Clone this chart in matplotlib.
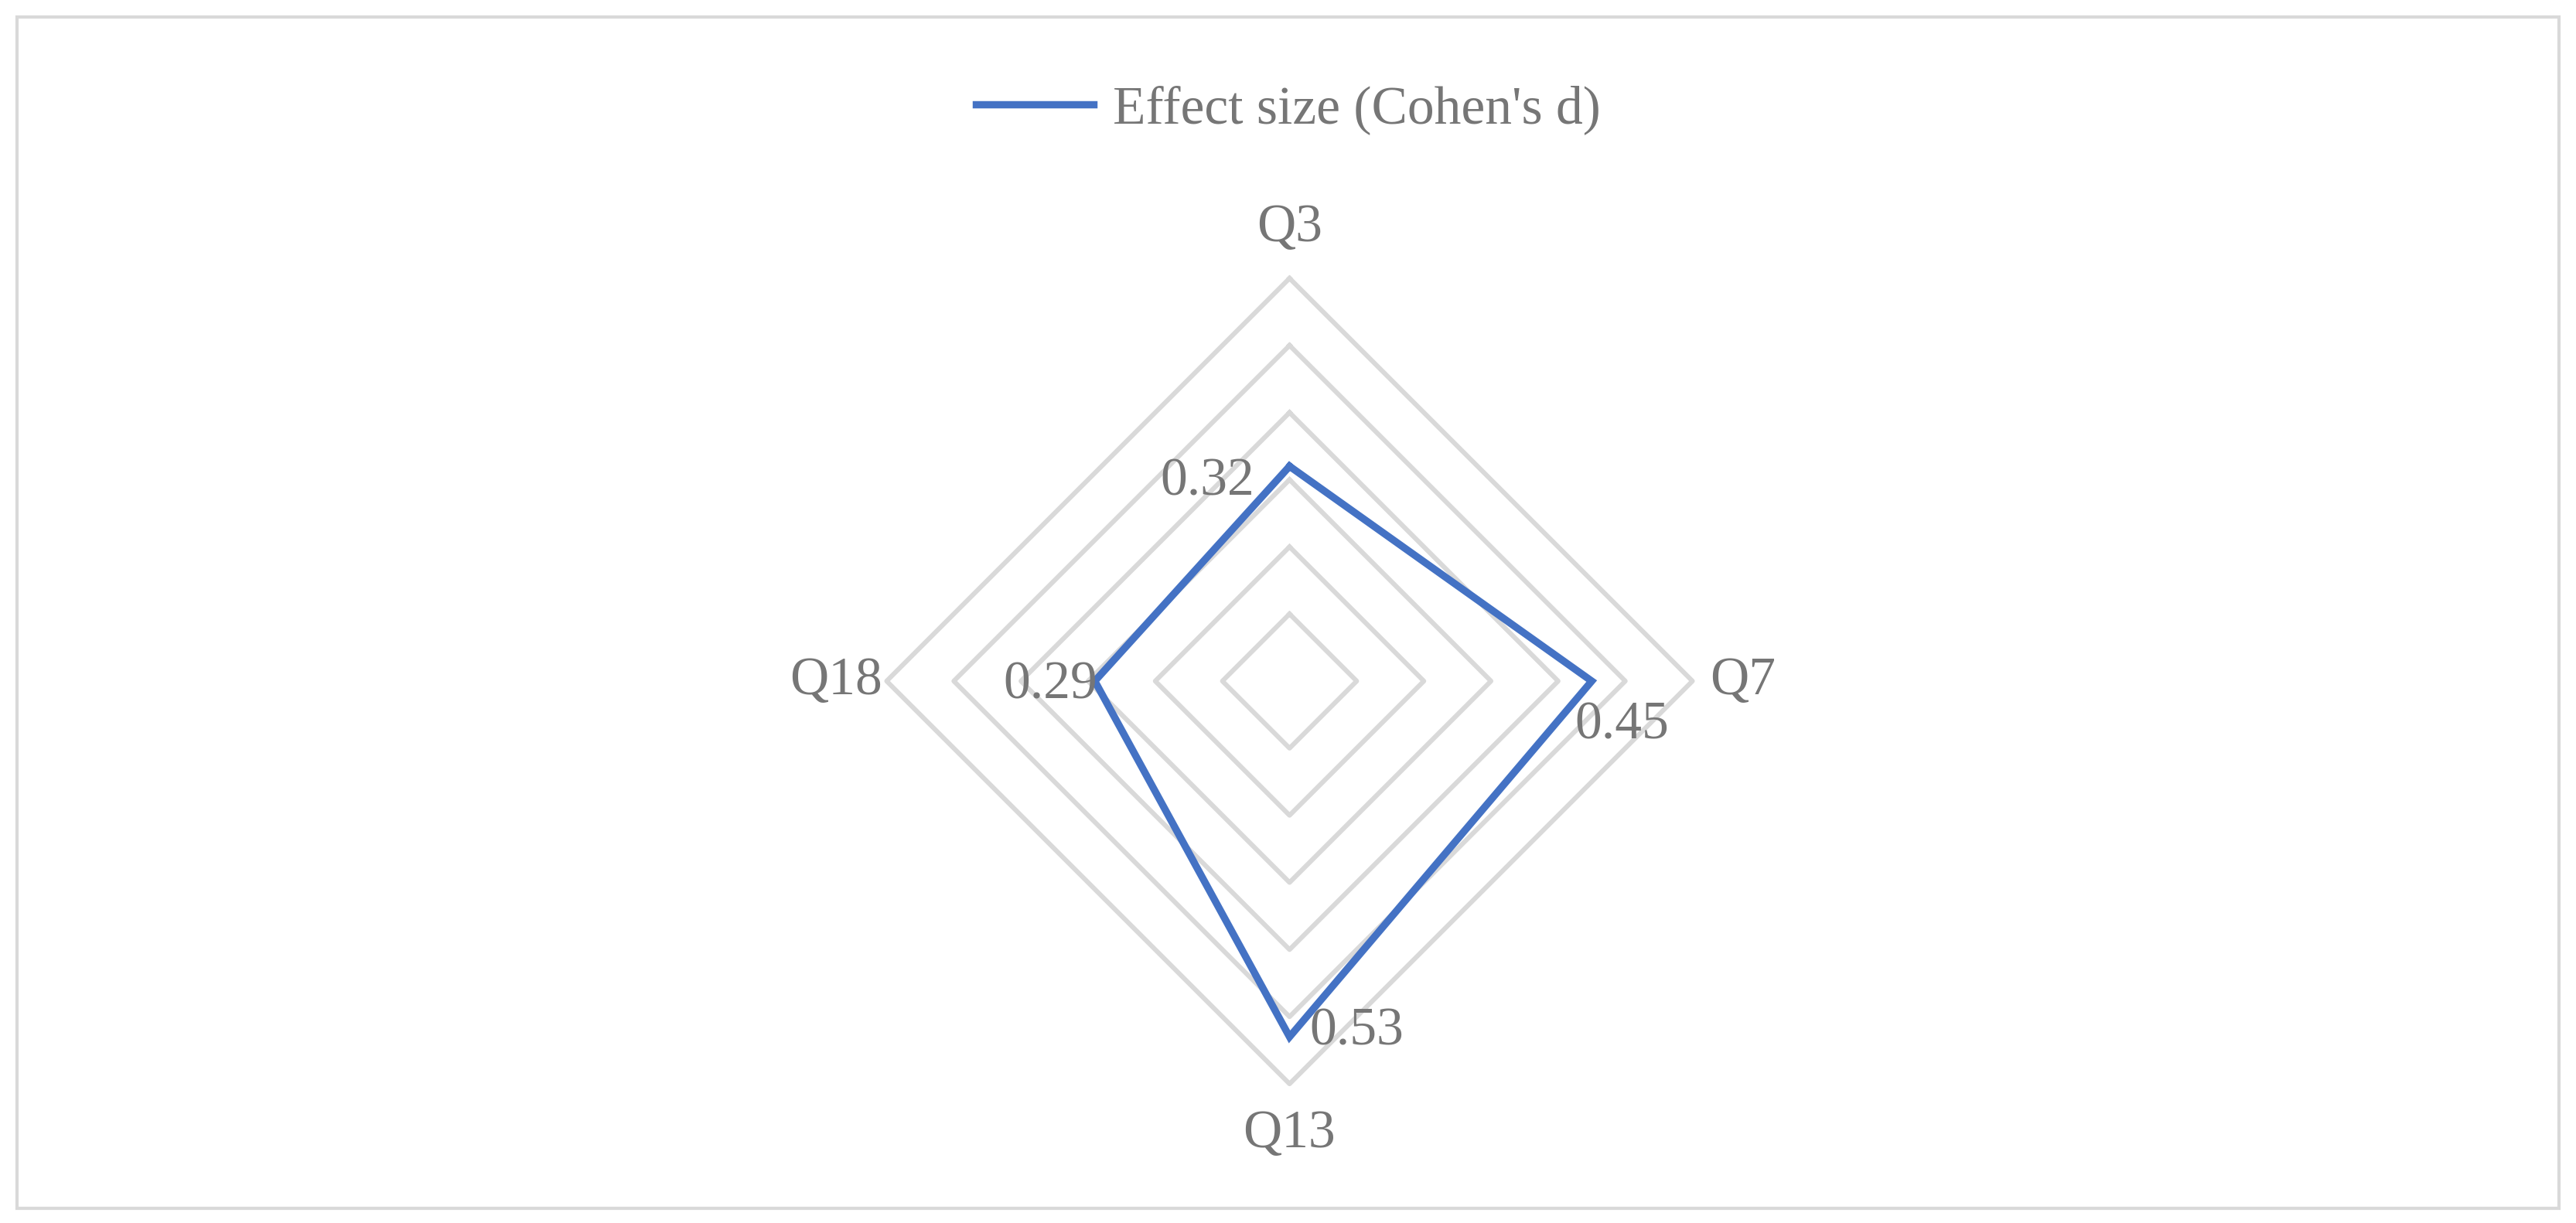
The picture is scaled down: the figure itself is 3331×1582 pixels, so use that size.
import numpy as np
import matplotlib.pyplot as plt
from matplotlib.patches import Rectangle

categories = ["Q3", "Q7", "Q13", "Q18"]
values = [0.32, 0.45, 0.53, 0.29]
ring_levels = [0.1, 0.2, 0.3, 0.4, 0.5, 0.6]
series_name = "Effect size (Cohen's d)"

plt.rcParams["font.family"] = ["Liberation Serif", "DejaVu Serif"]
text_color = "#767676"
grid_color = "#D9D9D9"
line_color = "#4472C4"

W, H, dpi = 3331, 1582, 200
fig = plt.figure(figsize=(W / dpi, H / dpi), dpi=dpi)
fig.patch.set_facecolor("white")
fig.patches.append(Rectangle((0.0065, 0.012), 0.987, 0.974, transform=fig.transFigure,
                             fill=False, edgecolor=grid_color, linewidth=1.5))

# square axes centred on the radar
side = 1300
cx, cy = 0.5006 * W, 701
ax = fig.add_axes([(cx - side / 2) / W, (cy - side / 2) / H, side / W, side / H])
lim = 0.6 * (side / 2) / 521
ax.set_xlim(-lim, lim)
ax.set_ylim(-lim, lim)
ax.set_aspect("equal")
ax.axis("off")

# angles: Q3 top, then clockwise
angles = np.pi / 2 - np.arange(len(categories)) * 2 * np.pi / len(categories)
ca, sa = np.cos(angles), np.sin(angles)

for r in ring_levels:
    ax.plot(np.append(r * ca, r * ca[0]), np.append(r * sa, r * sa[0]),
            color=grid_color, linewidth=2.2, zorder=1)

v = np.array(values)
ax.plot(np.append(v * ca, v[0] * ca[0]), np.append(v * sa, v[0] * sa[0]),
        color=line_color, linewidth=3.4, zorder=3, label=series_name,
        solid_joinstyle="miter")

for name, c, s in zip(categories, ca, sa):
    ax.text(0.675 * c, 0.675 * s, name, ha="center", va="center",
            fontsize=25, color=text_color)

offsets = [(-0.122, -0.024), (0.045, -0.066), (0.10, 0.007), (-0.066, -0.007)]
for val, c, s, (dx, dy) in zip(values, ca, sa, offsets):
    ax.text(val * c + dx, val * s + dy, f"{val:.2f}", ha="center", va="center",
            fontsize=25, color=text_color, zorder=4)

fig.legend(loc="center", bbox_to_anchor=(0.5, 0.91), frameon=False,
           fontsize=25, labelcolor=text_color, handlelength=2.2,
           handletextpad=0.35)

fig.savefig("out.png", dpi=dpi, facecolor="white")
